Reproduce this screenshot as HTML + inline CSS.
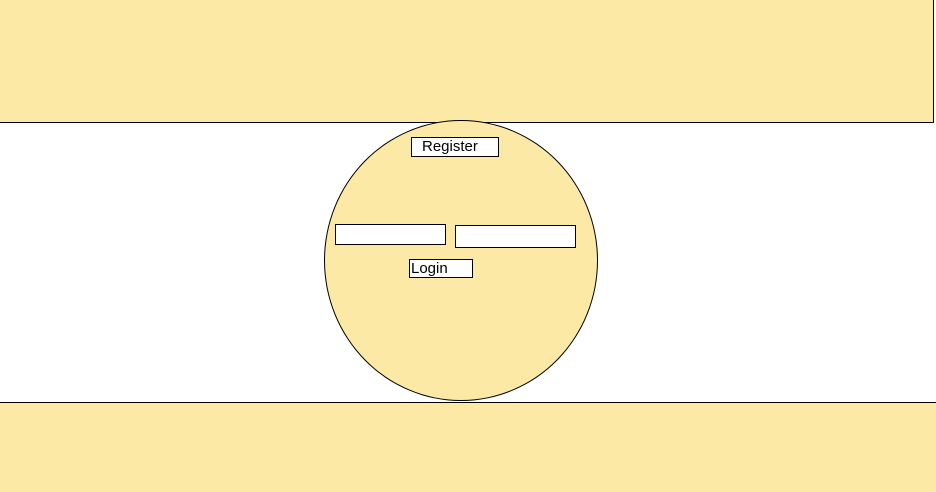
<!DOCTYPE html>
<html><head><style>
body{margin:0;width:936px;height:492px;position:relative;overflow:hidden;background:#fff;font-family:"Liberation Sans",sans-serif}
.a{position:absolute;box-sizing:border-box}
.y{background:#fce9a6}
.box{background:#fff;border:1px solid #000;font-size:15px;line-height:17px;color:#000}
</style></head><body>
<div class="a y" style="left:0;top:0;width:934px;height:123px;border-right:1px solid #000;border-bottom:1px solid #000"></div>
<div class="a y" style="left:0;top:402px;width:936px;height:90px;border-top:1px solid #000"></div>
<div class="a y" style="left:324px;top:120px;width:274px;height:281px;border:1px solid #000;border-radius:50%"></div>
<div class="a box" style="left:411px;top:137px;width:88px;height:20px;padding-left:10px">Register</div>
<div class="a box" style="left:335px;top:224px;width:111px;height:21px"></div>
<div class="a box" style="left:455px;top:225px;width:121px;height:23px"></div>
<div class="a box" style="left:409px;top:259px;width:64px;height:19px;padding-left:1px">Login</div>
</body></html>
